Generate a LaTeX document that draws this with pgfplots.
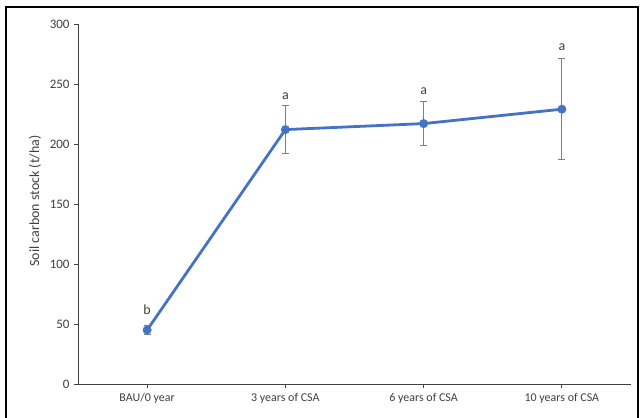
\documentclass[border=0pt]{standalone}
\usepackage{pgfplots}
\pgfplotsset{compat=1.18}
\usepackage{fontspec}
\setmainfont{Carlito}
\definecolor{lineblue}{HTML}{4472C4}
\definecolor{errgray}{HTML}{7F7F7F}
\definecolor{txtgray}{HTML}{404040}

\begin{document}
\begin{tikzpicture}
\useasboundingbox (-78bp,-34bp) rectangle (565bp,384bp);
\draw[line width=1.6bp, black] (-72bp,-45bp) rectangle (560bp,377bp);

\begin{axis}[
  at={(0,0)}, anchor=south west,
  scale only axis, width=553bp, height=360bp,
  xmin=0, xmax=4, ymin=0, ymax=300,
  axis lines=left, axis line style={-, black!75, line width=0.9pt},
  xtick={0.5,1.5,2.5,3.5},
  xticklabels={BAU/0 year, 3 years of CSA, 6 years of CSA, 10 years of CSA},
  ytick={0,50,...,300},
  tick align=outside, major tick length=4bp,
  tick style={black!75, line width=0.8pt},
  x tick label style={font=\fontsize{12}{14}\selectfont, text=txtgray, yshift=-2bp},
  y tick label style={font=\fontsize{13}{15}\selectfont, text=txtgray, xshift=-1bp},
  /pgf/number format/assume math mode=true,
  clip=false,
]
\addplot[color=lineblue, line width=2.8bp, mark=*, mark size=4.2bp,
  mark options={fill=lineblue, draw=lineblue, line width=0.5bp},
  error bars/.cd, y dir=both, y explicit,
  error bar style={errgray, line width=1.1pt},
  error mark options={rotate=90, mark size=3.5bp, errgray, line width=1.1pt}]
  coordinates {
  (0.5,45) +- (0,4)
  (1.5,212) +- (0,20)
  (2.5,217) +- (0,18.5)
  (3.5,229) +- (0,42)
  };
\node[font=\fontsize{14}{16}\selectfont, text=txtgray] at (axis cs:0.5,62) {b};
\node[font=\fontsize{14}{16}\selectfont, text=txtgray] at (axis cs:1.5,240) {a};
\node[font=\fontsize{14}{16}\selectfont, text=txtgray] at (axis cs:2.5,244) {a};
\node[font=\fontsize{14}{16}\selectfont, text=txtgray] at (axis cs:3.5,281) {a};
\end{axis}
\node[rotate=90, font=\fontsize{14}{16}\selectfont, text=txtgray] at (-43bp,183bp) {Soil carbon stock (t/ha)};
\end{tikzpicture}
\end{document}
